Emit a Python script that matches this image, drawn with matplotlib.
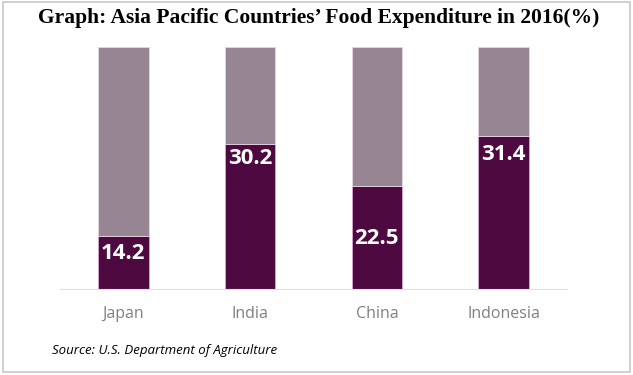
import matplotlib.pyplot as plt
from matplotlib.patches import Rectangle

countries = ["Japan", "India", "China", "Indonesia"]
values = [14.2, 30.2, 22.5, 31.4]
# share of each bar drawn dark (bars are not to scale)
dark_share = [21.9, 59.9, 42.6, 63.2]
label_y = [14.5, 54.0, 21.0, 55.4]

DARK = "#4e0a40"
LIGHT = "#978593"

fig = plt.figure(figsize=(6.33, 3.75), dpi=100)
ax = fig.add_axes([0.0948, 0.2293, 0.801, 0.6453])

x = range(len(countries))
rest = [100 - d for d in dark_share]
ax.bar(x, dark_share, width=0.4, color=DARK, edgecolor="#d9a8d0", linewidth=0.6)
ax.bar(x, rest, width=0.4, bottom=dark_share, color=LIGHT, edgecolor="#e6d6e2", linewidth=0.6)

for i, v in enumerate(values):
    ax.text(i, label_y[i], f"{v:.1f}", ha="center", va="center", color="white",
            fontsize=16, fontweight="bold", family="Open Sans")

ax.set_xlim(-0.5, len(countries) - 0.5)
ax.set_ylim(0, 100)
ax.set_xticks(list(x))
ax.set_xticklabels(countries, fontsize=11.5, color="#808080", family="Open Sans")
ax.tick_params(axis="x", length=0, pad=12)
ax.set_yticks([])
for s in ["top", "left", "right"]:
    ax.spines[s].set_visible(False)
ax.spines["bottom"].set_color("#e0e0e0")

fig.text(0.503, 0.953, "Graph: Asia Pacific Countries\u2019 Food Expenditure in 2016(%)",
         ha="center", va="center", fontsize=15.5, fontweight="bold", family="Liberation Serif")
fig.text(0.082, 0.066, "Source: U.S. Department of Agriculture", ha="left", va="center",
         fontsize=9.5, style="italic", family="Open Sans")

fig.patches.append(Rectangle((0.004, 0.008), 0.991, 0.986, transform=fig.transFigure,
                             fill=False, edgecolor="#c8c8c8", linewidth=1.2))

fig.savefig("out.png", dpi=100)
